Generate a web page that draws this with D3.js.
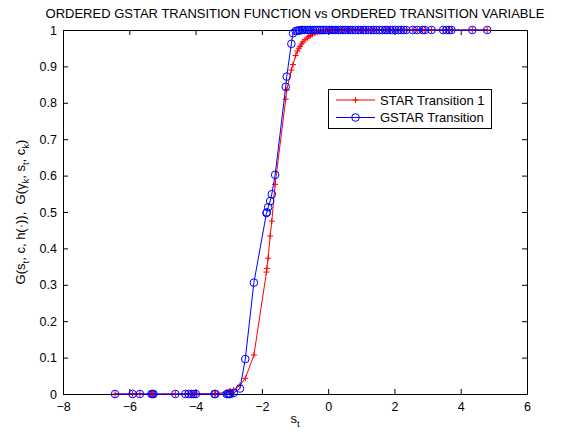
<!DOCTYPE html>
<html>
<head>
<meta charset="utf-8">
<script src="https://cdn.jsdelivr.net/npm/d3@7"></script>
<style>
  html, body { margin: 0; padding: 0; background: #fff; }
  svg { display: block; font-family: "Liberation Sans", Arial, Helvetica, sans-serif; }
</style>
</head>
<body>
<svg id="chart" width="564" height="435"></svg>
<script>
// Ordered transition variable s_t
const sOrdered = [
  -6.43, -5.90, -5.68, -5.33, -5.30, -5.27, -4.61, -4.31, -4.21, -4.13,
  -4.06, -3.99, -3.43, -3.40, -3.06, -3.02, -2.98, -2.95, -2.85, -2.66,
  -2.50, -2.24, -1.86, -1.85, -1.81, -1.75, -1.70, -1.60, -1.28, -1.25,
  -1.11, -1.06,
  -0.98, -0.93, -0.88, -0.85, -0.80, -0.76, -0.70, -0.63, -0.58, -0.53,
  -0.47, -0.40, -0.33, -0.25, -0.18, -0.12, -0.05, 0.03, 0.10, 0.16,
  0.22, 0.31, 0.38, 0.45, 0.52, 0.60, 0.68, 0.74, 0.83, 0.91,
  0.98, 1.06, 1.13, 1.22, 1.30, 1.37, 1.45, 1.55, 1.63, 1.72,
  1.78, 1.87, 1.95, 2.03, 2.12, 2.20, 2.28, 2.36, 2.55, 2.69,
  2.85, 2.92, 3.12, 3.47, 3.57, 3.65, 3.72, 4.35, 4.80
];

// STAR transition function values
const starTransition = [
  0, 0, 0, 0, 0, 0, 0, 0.0001, 0.0001, 0.0001,
  0.0001, 0.0002, 0.001, 0.001, 0.005, 0.006, 0.007, 0.008, 0.011, 0.024,
  0.043, 0.107, 0.335, 0.345, 0.373, 0.434, 0.475, 0.576, 0.81, 0.835,
  0.89, 0.905,
  0.93, 0.942, 0.95, 0.955, 0.962, 0.967, 0.973, 0.978, 0.982, 0.985,
  0.988, 0.991, 0.993, 0.995, 0.996, 0.997, 0.998, 0.998, 0.999, 0.999,
  0.999, 1, 1, 1, 1, 1, 1, 1, 1, 1,
  1, 1, 1, 1, 1, 1, 1, 1, 1, 1,
  1, 1, 1, 1, 1, 1, 1, 1, 1, 1,
  1, 1, 1, 1, 1, 1, 1, 1, 1
];

// GSTAR transition function values
const gstarTransition = [
  0, 0, 0, 0, 0, 0, 0, 0, 0, 0,
  0, 0, 0, 0, 0, 0, 0, 0, 0.003, 0.015,
  0.096, 0.306, 0.497, 0.499, 0.513, 0.530, 0.549, 0.602, 0.844, 0.872,
  0.962, 0.991,
  0.997, 0.998, 0.999, 0.999, 1, 1, 1, 1, 1, 1,
  1, 1, 1, 1, 1, 1, 1, 1, 1, 1,
  1, 1, 1, 1, 1, 1, 1, 1, 1, 1,
  1, 1, 1, 1, 1, 1, 1, 1, 1, 1,
  1, 1, 1, 1, 1, 1, 1, 1, 1, 1,
  1, 1, 1, 1, 1, 1, 1, 1, 1
];

const xTicks = [-8, -6, -4, -2, 0, 2, 4, 6];
const yTicks = [0, 0.1, 0.2, 0.3, 0.4, 0.5, 0.6, 0.7, 0.8, 0.9, 1];
const seriesNames = ["STAR Transition 1", "GSTAR Transition"];
const titleText = "ORDERED GSTAR TRANSITION FUNCTION vs ORDERED TRANSITION VARIABLE";

const svg = d3.select("#chart");
const plotL = 63, plotR = 527, plotT = 30, plotB = 394;

const x = d3.scaleLinear().domain([-8, 6]).range([plotL, plotR]);
const y = d3.scaleLinear().domain([0, 1]).range([plotB, plotT]);

const fmtX = d => d3.format("d")(d);
const fmtY = d => (d === 0 || d === 1) ? String(d) : d3.format(".1f")(d);

// axes with inward ticks on all four sides
const axBottom = svg.append("g").attr("transform", `translate(0,${plotB})`)
  .call(d3.axisBottom(x).tickValues(xTicks).tickFormat(fmtX).tickSizeInner(-5).tickSizeOuter(0).tickPadding(8));
const axTop = svg.append("g").attr("transform", `translate(0,${plotT})`)
  .call(d3.axisTop(x).tickValues(xTicks).tickFormat("").tickSizeInner(-5).tickSizeOuter(0));
const axLeft = svg.append("g").attr("transform", `translate(${plotL},0)`)
  .call(d3.axisLeft(y).tickValues(yTicks).tickFormat(fmtY).tickSizeInner(-5).tickSizeOuter(0).tickPadding(6));
const axRight = svg.append("g").attr("transform", `translate(${plotR},0)`)
  .call(d3.axisRight(y).tickValues(yTicks).tickFormat("").tickSizeInner(-5).tickSizeOuter(0));

[axBottom, axTop, axLeft, axRight].forEach(g => {
  g.selectAll("path.domain").attr("stroke", "#000").attr("stroke-width", 1);
  g.selectAll(".tick line").attr("stroke", "#000");
  g.selectAll(".tick text").attr("fill", "#000").style("font-size", "12.5px")
    .style("font-family", "'Liberation Sans', Arial, sans-serif");
});

const plot = svg.append("g");

const pts = sOrdered.map((s, i) => ({ s, a: starTransition[i], b: gstarTransition[i] }));

const lineA = d3.line().x(d => x(d.s)).y(d => y(d.a));
const lineB = d3.line().x(d => x(d.s)).y(d => y(d.b));

// STAR transition: red line with plus markers
plot.append("path").datum(pts).attr("d", lineA)
  .attr("fill", "none").attr("stroke", "#ff0000").attr("stroke-width", 1);
const plusPath = "M-3,0H3M0,-3V3";
plot.selectAll("path.plus").data(pts).enter().append("path")
  .attr("class", "plus")
  .attr("d", plusPath)
  .attr("transform", d => `translate(${x(d.s)},${y(d.a)})`)
  .attr("stroke", "#ff0000").attr("stroke-width", 1).attr("fill", "none");

// GSTAR transition: blue line with circle markers
plot.append("path").datum(pts).attr("d", lineB)
  .attr("fill", "none").attr("stroke", "#0000ff").attr("stroke-width", 1);
plot.selectAll("circle.mk").data(pts).enter().append("circle")
  .attr("class", "mk")
  .attr("cx", d => x(d.s)).attr("cy", d => y(d.b)).attr("r", 3.8)
  .attr("fill", "none").attr("stroke", "#0000ff").attr("stroke-width", 1);

// title
svg.append("text").attr("x", (plotL + plotR) / 2).attr("y", 18)
  .attr("text-anchor", "middle").style("font-size", "13px").attr("fill", "#000")
  .text(titleText);

// x label: s_t
const xl = svg.append("text").attr("x", (plotL + plotR) / 2).attr("y", 423)
  .attr("text-anchor", "middle").style("font-size", "13px").attr("fill", "#000");
xl.append("tspan").text("s");
xl.append("tspan").attr("dy", 4).style("font-size", "9.5px").text("t");

// y label: G(s_t, c, h(·)),  G(γ_k, s_t, c_k)
const yl = svg.append("text")
  .attr("transform", `translate(25,${(plotT + plotB) / 2}) rotate(-90)`)
  .attr("text-anchor", "middle").style("font-size", "13px").attr("fill", "#000")
  .attr("xml:space", "preserve");
const parts = [
  ["G(s", 0], ["t", 1], [", c, h(\u00b7)),  G(\u03b3", 0], ["k", 1],
  [", s", 0], ["t", 1], [", c", 0], ["k", 1], [")", 0]
];
let shifted = 0;
parts.forEach(([t, sub]) => {
  const dy = sub ? 4 - shifted : -shifted;
  shifted = sub ? 4 : 0;
  yl.append("tspan").attr("dy", dy).style("font-size", sub ? "9.5px" : "13px").text(t);
});

// legend
const lg = svg.append("g");
lg.append("rect").attr("x", 328.5).attr("y", 89.5).attr("width", 163).attr("height", 39)
  .attr("fill", "#fff").attr("stroke", "#000").attr("stroke-width", 1);
const rows = [
  { name: seriesNames[0], color: "#ff0000", mark: "plus", yy: 100 },
  { name: seriesNames[1], color: "#0000ff", mark: "circle", yy: 117.5 }
];
rows.forEach(r => {
  lg.append("line").attr("x1", 336).attr("x2", 375).attr("y1", r.yy).attr("y2", r.yy)
    .attr("stroke", r.color).attr("stroke-width", 1);
  if (r.mark === "plus") {
    lg.append("path").attr("d", plusPath).attr("transform", `translate(355.5,${r.yy})`)
      .attr("stroke", r.color).attr("fill", "none");
  } else {
    lg.append("circle").attr("cx", 355.5).attr("cy", r.yy).attr("r", 3.8)
      .attr("stroke", r.color).attr("fill", "none");
  }
  lg.append("text").attr("x", 380).attr("y", r.yy + 4.5).style("font-size", "13px")
    .attr("fill", "#000").text(r.name);
});
</script>
</body>
</html>
